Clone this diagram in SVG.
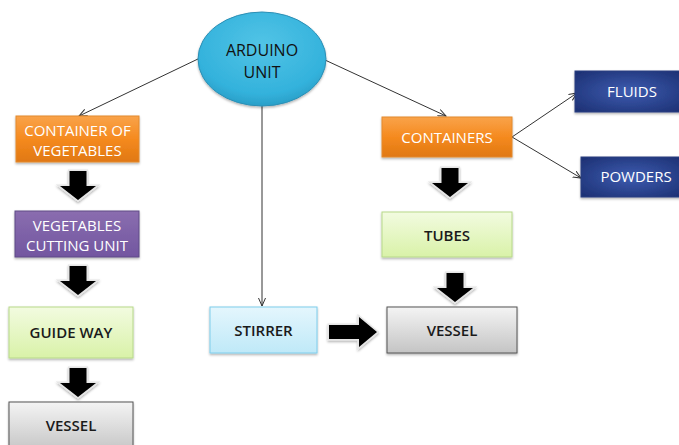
<svg xmlns="http://www.w3.org/2000/svg" width="679" height="445" viewBox="0 0 679 445">
<defs>
<linearGradient id="gOrange" x1="0" y1="0" x2="0" y2="1">
<stop offset="0" stop-color="#f9a34a"/><stop offset="0.5" stop-color="#f58a1f"/><stop offset="1" stop-color="#e07812"/>
</linearGradient>
<linearGradient id="gPurple" x1="0" y1="0" x2="0" y2="1">
<stop offset="0" stop-color="#8a6daf"/><stop offset="1" stop-color="#7256a0"/>
</linearGradient>
<linearGradient id="gGreen" x1="0" y1="0" x2="0" y2="1">
<stop offset="0" stop-color="#f2fbe0"/><stop offset="1" stop-color="#d9f2a8"/>
</linearGradient>
<linearGradient id="gGray" x1="0" y1="0" x2="0" y2="1">
<stop offset="0" stop-color="#f4f4f4"/><stop offset="1" stop-color="#c4c4c4"/>
</linearGradient>
<linearGradient id="gBlue" x1="0" y1="0" x2="0" y2="1">
<stop offset="0" stop-color="#e4f6fd"/><stop offset="1" stop-color="#bfe9f8"/>
</linearGradient>
<radialGradient id="gNavy" cx="0.5" cy="0.5" r="0.7">
<stop offset="0" stop-color="#3d5cb0"/><stop offset="1" stop-color="#1c2f72"/>
</radialGradient>
<radialGradient id="gCyan" cx="0.5" cy="0.35" r="0.65">
<stop offset="0" stop-color="#52c4e6"/><stop offset="0.8" stop-color="#33b2dc"/><stop offset="1" stop-color="#2a9fc8"/>
</radialGradient>
<marker id="arr" markerWidth="10" markerHeight="8" refX="8" refY="4" orient="auto" markerUnits="userSpaceOnUse">
<path d="M0,0.5 L8,4 L0,7.5" fill="none" stroke="#333" stroke-width="1"/>
</marker>
<path id="downArrow" d="M-8.5,0 H8.5 V15 H18 L0,29 L-18,15 H-8.5 Z"/>
<filter id="sh" x="-20%" y="-20%" width="140%" height="150%">
<feDropShadow dx="0" dy="1.5" stdDeviation="1.2" flood-color="#000" flood-opacity="0.3"/>
</filter>
</defs>
<style>
.lbl{font-family:"Open Sans","Liberation Sans",sans-serif;font-size:15px;text-anchor:middle}
.w{fill:#ffffff}
.d{fill:#1a1a1a;font-weight:600}
.conn{stroke:#333;stroke-width:1;fill:none}
.blk{fill:#000;stroke:#e6e6e6;stroke-width:3;paint-order:stroke;filter:url(#sh)}
</style>
<rect width="679" height="445" fill="#ffffff"/>

<g id="connectors">
<line class="conn" x1="200" y1="58" x2="79" y2="116" marker-end="url(#arr)"/>
<line class="conn" x1="325" y1="60" x2="446" y2="116" marker-end="url(#arr)"/>
<line class="conn" x1="262" y1="106" x2="262" y2="306" marker-end="url(#arr)"/>
<line class="conn" x1="512" y1="137" x2="577" y2="93" marker-end="url(#arr)"/>
<line class="conn" x1="512" y1="137" x2="581" y2="178" marker-end="url(#arr)"/>
<use href="#downArrow" class="blk" transform="translate(78,171)"/>
<use href="#downArrow" class="blk" transform="translate(78,266)"/>
<use href="#downArrow" class="blk" transform="translate(78,368)"/>
<use href="#downArrow" class="blk" transform="translate(450,168)"/>
<use href="#downArrow" class="blk" transform="translate(455,273)"/>
<path class="blk" d="M329,325 H359 V317 L377,332 L359,347 V339 H329 Z"/>
</g>

<g id="arduino">
<ellipse cx="262" cy="59" rx="64" ry="47" fill="url(#gCyan)" stroke="#2c8fb5" stroke-width="1" filter="url(#sh)"/>
<text class="lbl" x="262" y="56" style="font-size:16px;fill:#111">ARDUINO</text>
<text class="lbl" x="262" y="78" style="font-size:16px;fill:#111">UNIT</text>
</g>

<g id="container-veg">
<rect x="16" y="116" width="123" height="46" fill="url(#gOrange)" stroke="#e38a2e" filter="url(#sh)"/>
<text class="lbl w" x="77.5" y="135.5">CONTAINER OF</text>
<text class="lbl w" x="77.5" y="156">VEGETABLES</text>
</g>

<g id="cutting-unit">
<rect x="15" y="211" width="124" height="46" fill="url(#gPurple)" stroke="#5f4a86" filter="url(#sh)"/>
<text class="lbl w" x="77" y="230.5">VEGETABLES</text>
<text class="lbl w" x="77" y="251">CUTTING UNIT</text>
</g>

<g id="guide-way">
<rect x="9" y="307" width="124" height="51" fill="url(#gGreen)" stroke="#b7d98a" filter="url(#sh)"/>
<text class="lbl d" x="71" y="338">GUIDE WAY</text>
</g>

<g id="vessel-left">
<rect x="9" y="402" width="124" height="50" fill="url(#gGray)" stroke="#555" filter="url(#sh)"/>
<text class="lbl d" x="71" y="431">VESSEL</text>
</g>

<g id="containers">
<rect x="382" y="117" width="130" height="40" fill="url(#gOrange)" stroke="#e38a2e" filter="url(#sh)"/>
<text class="lbl w" x="447" y="143">CONTAINERS</text>
</g>

<g id="fluids">
<rect x="575" y="71" width="108" height="41" fill="url(#gNavy)" stroke="#2a3f80" filter="url(#sh)"/>
<text class="lbl w" x="632" y="97">FLUIDS</text>
</g>

<g id="powders">
<rect x="581" y="157" width="102" height="40" fill="url(#gNavy)" stroke="#2a3f80" filter="url(#sh)"/>
<text class="lbl w" x="636" y="182">POWDERS</text>
</g>

<g id="tubes">
<rect x="382" y="212" width="130" height="45" fill="url(#gGreen)" stroke="#b7d98a" filter="url(#sh)"/>
<text class="lbl d" x="447" y="241">TUBES</text>
</g>

<g id="stirrer">
<rect x="210" y="307" width="107" height="46" fill="url(#gBlue)" stroke="#7fcdec" filter="url(#sh)"/>
<text class="lbl d" x="263.5" y="336">STIRRER</text>
</g>

<g id="vessel-center">
<rect x="387" y="307" width="130" height="46" fill="url(#gGray)" stroke="#555" filter="url(#sh)"/>
<text class="lbl d" x="452" y="336">VESSEL</text>
</g>
</svg>
